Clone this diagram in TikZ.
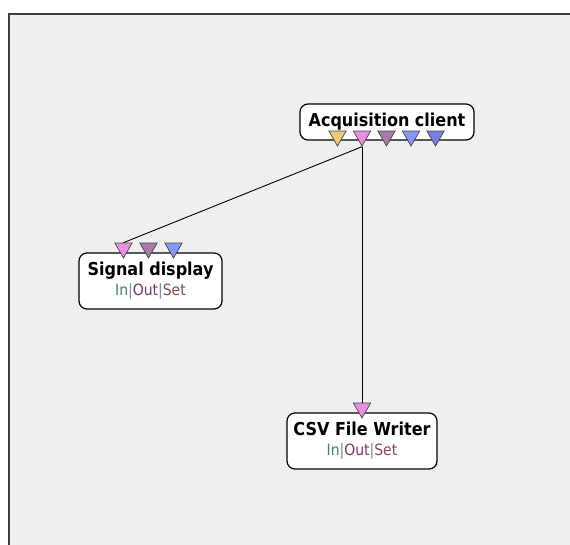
\documentclass[tikz,border=0pt]{standalone}
\usepackage{fontspec}
\setsansfont{DejaVu Sans Condensed}
\usepackage{tikz}
\usetikzlibrary{shapes.geometric,positioning}
\definecolor{panelgray}{RGB}{239,239,239}
\definecolor{paneledge}{RGB}{62,62,62}
\definecolor{portedge}{RGB}{70,70,70}
\definecolor{portyellow}{RGB}{232,204,120}
\definecolor{portpink}{RGB}{232,144,224}
\definecolor{portmauve}{RGB}{168,124,168}
\definecolor{portblue}{RGB}{136,152,248}
\definecolor{portindigo}{RGB}{120,128,232}
\definecolor{ingreen}{RGB}{60,132,96}
\definecolor{barblue}{RGB}{100,140,200}
\definecolor{outred}{RGB}{128,48,100}
\definecolor{setbrown}{RGB}{138,72,84}
\newcommand{\modtitle}[1]{{\fontsize{17.8}{20}\selectfont\bfseries #1}}
\newcommand{\iostate}{{\fontsize{15.5}{20}\selectfont\textcolor{ingreen}{In}\textcolor{barblue}{|}\textcolor{outred}{Out}\textcolor{barblue}{|}\textcolor{setbrown}{Set}}}
\tikzset{
  panel/.style={fill=panelgray,draw=paneledge,line width=2pt},
  module/.style={draw=black,line width=1.2pt,fill=white,rounded corners=8pt,
    align=center,inner sep=0pt,font=\sffamily\fontsize{13}{20}\selectfont},
  port/.style={regular polygon,regular polygon sides=3,shape border rotate=180,
    minimum size=20pt,inner sep=0pt,draw=portedge,line width=0.7pt},
  link/.style={draw=black,line width=0.9pt},
}
\begin{document}
\begin{tikzpicture}[x=1pt,y=-1pt]
  \useasboundingbox (0,0) rectangle (570,544);
  \clip (0,0) rectangle (570,544);
  \draw[panel] (9,14) rectangle (585,560);

  % modules
  \node[module,minimum width=174pt,minimum height=36pt] (acq) at (387,122)
    {\modtitle{Acquisition client}};
  \node[module,minimum width=143pt,minimum height=56pt] (sig) at (150.5,281)
    {\modtitle{Signal display}\\\iostate};
  \node[module,minimum width=150pt,minimum height=56pt] (csv) at (362,441)
    {\modtitle{CSV File Writer}\\\iostate};

  % outputs of the acquisition client
  \node[port,fill=portyellow] (acq1) at (337.5,136) {};
  \node[port,fill=portpink]   (acq2) at (362,136) {};
  \node[port,fill=portmauve]  (acq3) at (386.5,136) {};
  \node[port,fill=portblue]   (acq4) at (411,136) {};
  \node[port,fill=portindigo] (acq5) at (435.5,136) {};

  % inputs
  \node[port,fill=portpink]  (sig1) at (123.5,248) {};
  \node[port,fill=portmauve] (sig2) at (148.5,248) {};
  \node[port,fill=portblue]  (sig3) at (173.5,248) {};
  \node[port,fill=portpink]  (csv1) at (362,408) {};

  \draw[link] (acq2.corner 1) -- (sig1.side 2);
  \draw[link] (acq2.corner 1) -- (csv1.side 2);
\end{tikzpicture}
\end{document}
